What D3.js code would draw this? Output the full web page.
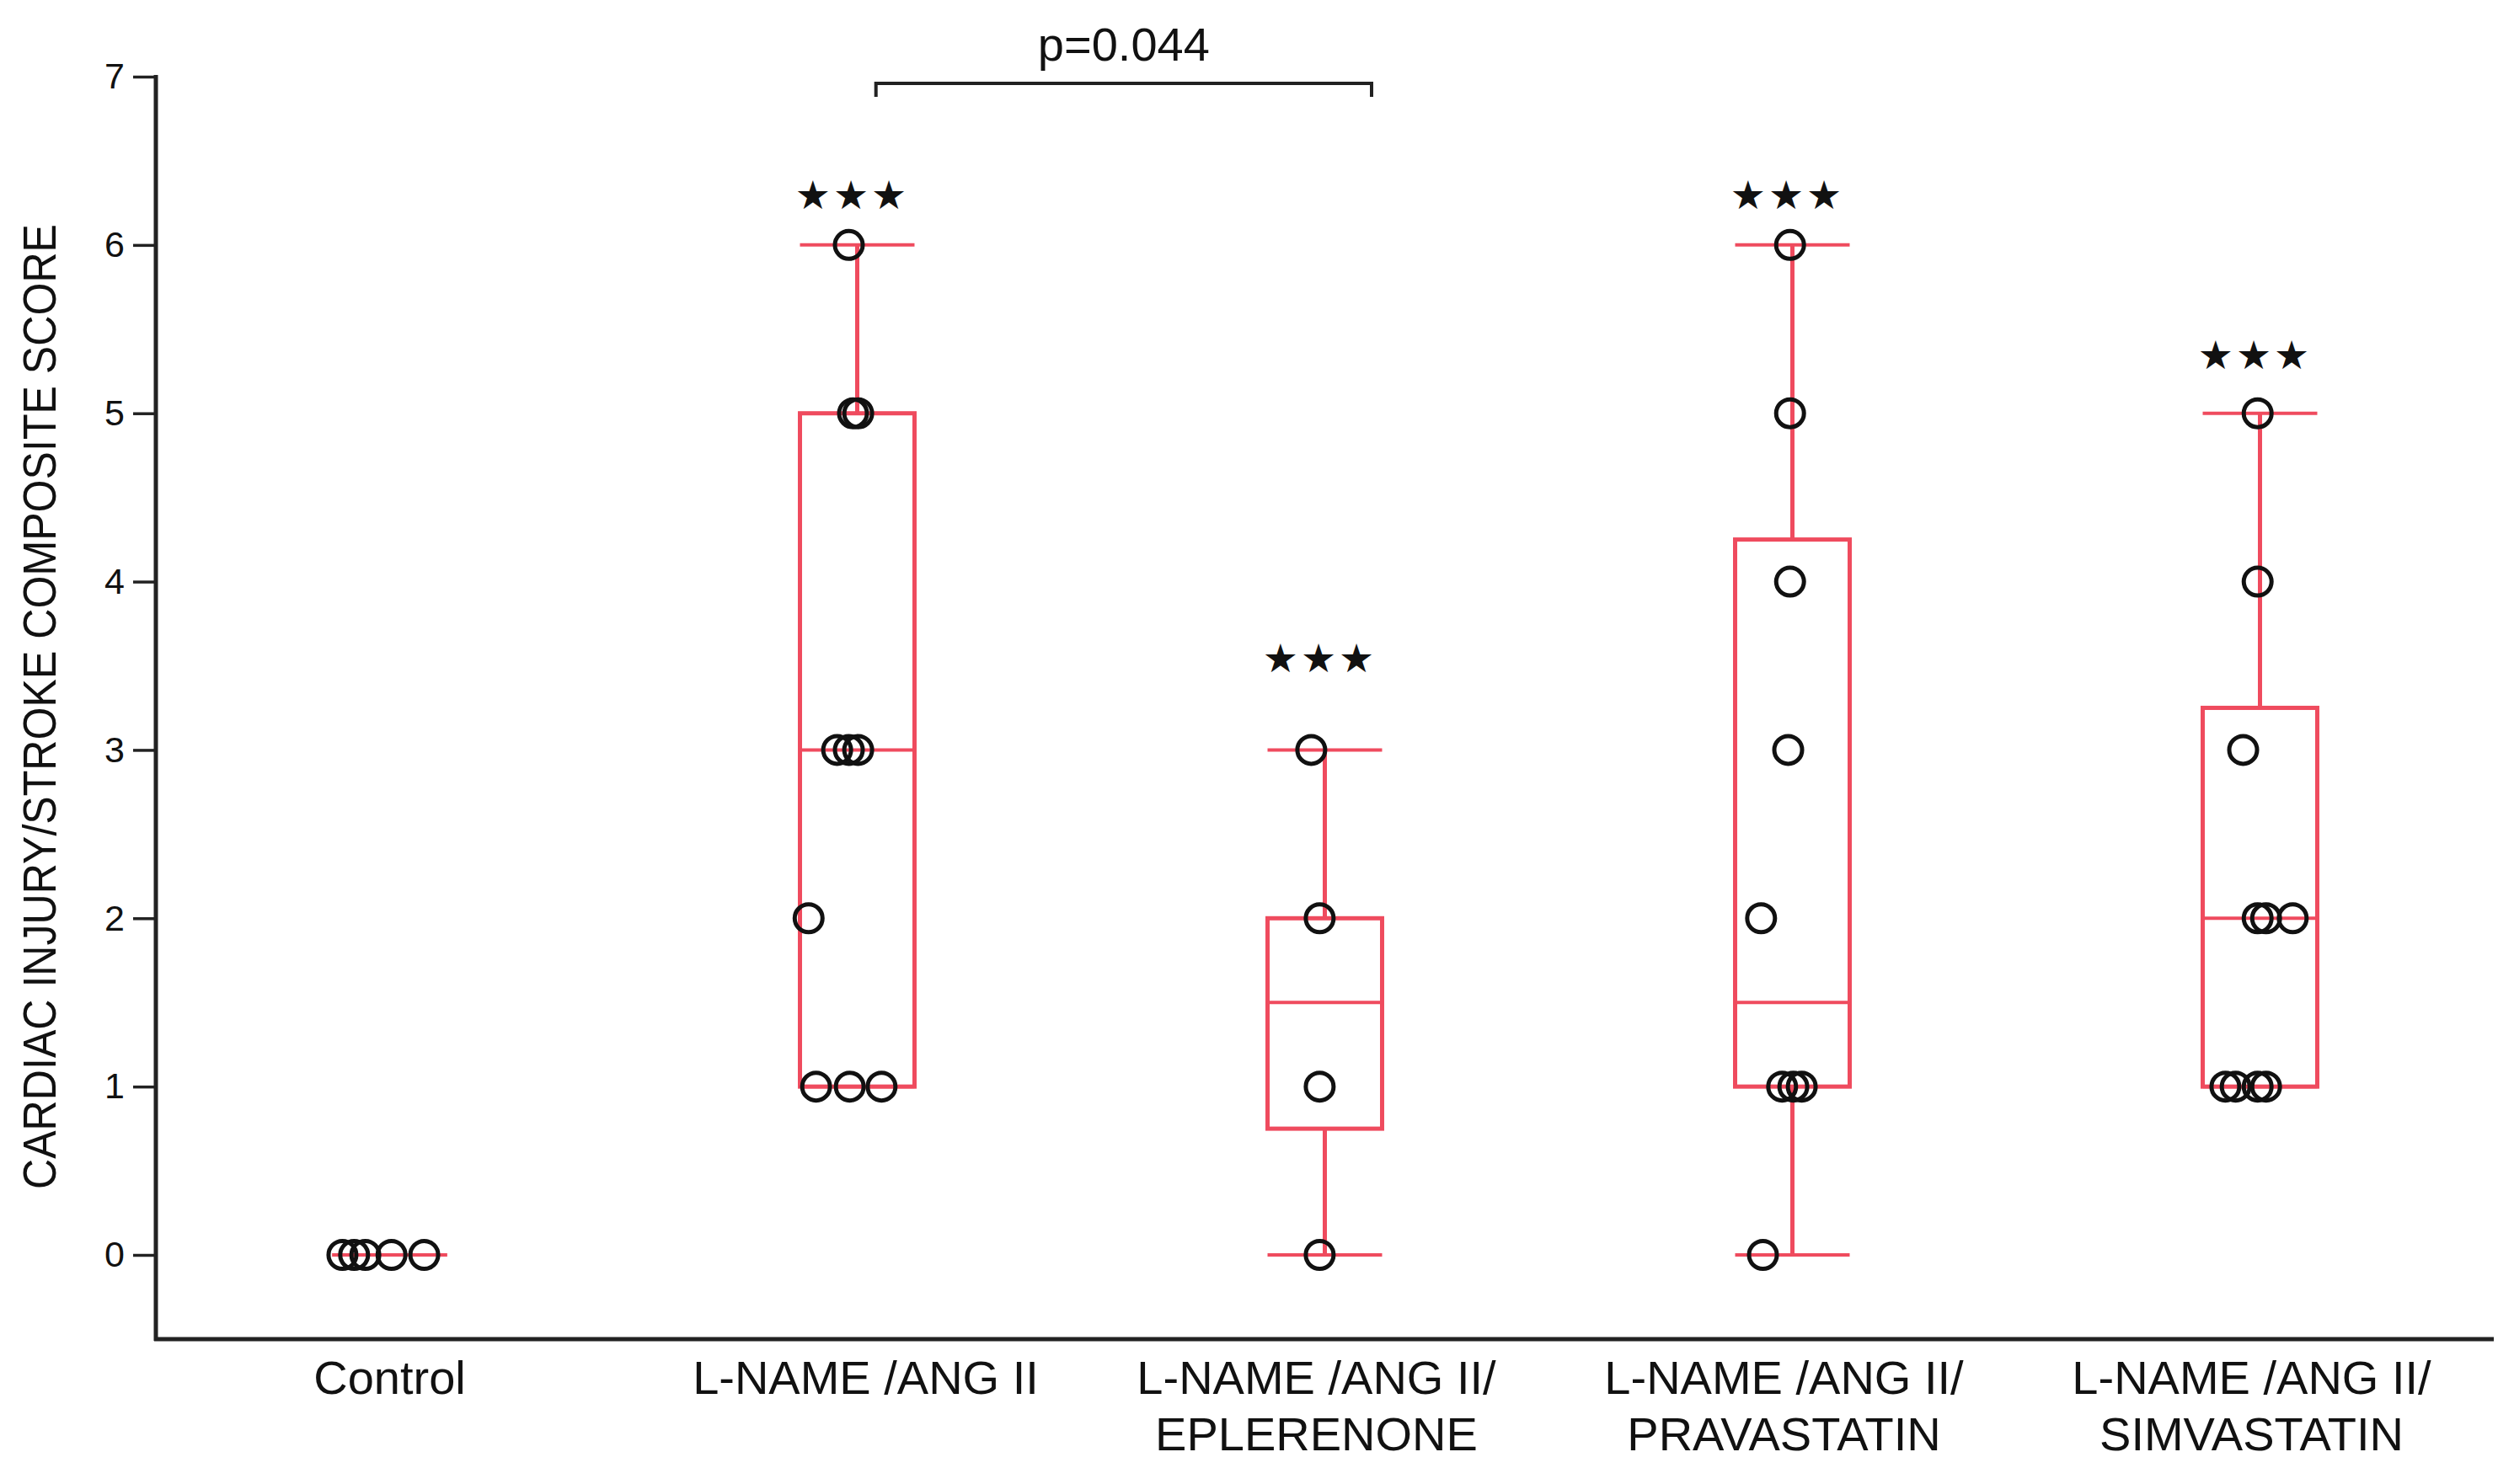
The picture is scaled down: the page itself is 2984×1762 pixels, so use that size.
<!DOCTYPE html>
<html>
<head>
<meta charset="utf-8">
<script src="https://cdn.jsdelivr.net/npm/d3@7"></script>
<style>
  html, body { margin: 0; padding: 0; background: #fff; }
  svg { display: block; }
  text { font-family: "Liberation Sans", Arial, sans-serif; fill: #111; }
</style>
</head>
<body>
<svg id="chart" width="2984" height="1762"></svg>
<script>
// ---------- data ----------
const categories = ["Control", "L-NAME /ANG II", "L-NAME /ANG II/\nEPLERENONE", "L-NAME /ANG II/\nPRAVASTATIN", "L-NAME /ANG II/\nSIMVASTATIN"];
// box statistics per group
const whiskerLow  = [0, 1, 0,    0,    1];
const quart1      = [0, 1, 0.75, 1,    1];
const medians     = [0, 3, 1.5,  1.5,  2];
const quart3      = [0, 5, 2,    4.25, 3.25];
const whiskerHigh = [0, 6, 3,    6,    5];
// individual scores per group
const controlScores = [0, 0, 0, 0, 0];
const angScores     = [6, 5, 5, 3, 3, 3, 2, 1, 1, 1];
const epleScores    = [3, 2, 1, 0];
const pravaScores   = [6, 5, 4, 3, 2, 1, 1, 1, 0];
const simvaScores   = [5, 4, 3, 2, 2, 2, 1, 1, 1, 1];
// horizontal jitter of each point (fraction of category step)
const controlJitter = [-0.101, -0.076, -0.052, 0.004, 0.074];
const angJitter     = [-0.018, -0.009, 0.002, -0.043, -0.018, 0.002, -0.104, -0.088, -0.016, 0.052];
const epleJitter    = [-0.029, -0.011, -0.011, -0.011];
const pravaJitter   = [-0.005, -0.005, -0.005, -0.009, -0.067, -0.022, 0.002, 0.020, -0.063];
const simvaJitter   = [-0.005, -0.005, -0.036, -0.005, 0.013, 0.070, -0.074, -0.052, -0.005, 0.013];
// significance annotations
const starLevel  = [null, 6.3, 3.55, 6.3, 5.35];
const starLabel  = "★★★";
const yTicks     = [0, 1, 2, 3, 4, 5, 6, 7];
const yTitle     = "CARDIAC INJURY/STROKE COMPOSITE SCORE";
const pLabel     = "p=0.044";
const bracketGroups = [1, 2];
const bracketLevel  = 6.96;

const allScores = [controlScores, angScores, epleScores, pravaScores, simvaScores];
const allJitter = [controlJitter, angJitter, epleJitter, pravaJitter, simvaJitter];

// ---------- layout ----------
const svg = d3.select("#chart");
const axisLeftX = 185, axisRightX = 2960, axisBottomY = 1590;
const red = "#ef4b5e";

const x = d3.scalePoint().domain(d3.range(categories.length)).range([axisLeftX, axisRightX]).padding(0.5);
const step = x.step();
const y = d3.scaleLinear().domain([0, 7]).range([1490, 91]);
const boxW = step * 0.245;

// ---------- axes ----------
const yAxis = d3.axisLeft(y).tickValues(yTicks).tickSize(27).tickPadding(10).tickFormat(d3.format("d"));
const gy = svg.append("g").attr("transform", `translate(${axisLeftX},0)`).call(yAxis);
gy.select(".domain").remove();
gy.selectAll(".tick line").attr("stroke", "#222").attr("stroke-width", 3.5);
gy.selectAll(".tick text").style("font-size", "43px").style("font-family", "'Liberation Sans', Arial, sans-serif").attr("fill", "#111");

svg.append("line").attr("x1", axisLeftX).attr("x2", axisLeftX)
  .attr("y1", y(7) - 2).attr("y2", axisBottomY + 2).attr("stroke", "#222").attr("stroke-width", 5);
svg.append("line").attr("x1", axisLeftX - 2).attr("x2", axisRightX)
  .attr("y1", axisBottomY).attr("y2", axisBottomY).attr("stroke", "#222").attr("stroke-width", 5);

svg.append("text")
  .attr("transform", `translate(66,839) rotate(-90)`)
  .attr("text-anchor", "middle")
  .attr("textLength", 1146).attr("lengthAdjust", "spacingAndGlyphs")
  .style("font-size", "55px")
  .text(yTitle);

// category labels
categories.forEach((c, i) => {
  const lines = c.split("\n");
  const shift = lines.length > 1 ? -10 : (i === 0 ? 0 : 10);
  const t = svg.append("text").attr("text-anchor", "middle").style("font-size", "56px");
  lines.forEach((ln, j) => {
    t.append("tspan").attr("x", x(i) + shift).attr("y", 1655 + j * 67).text(ln);
  });
});

// ---------- boxes ----------
const groups = svg.append("g").selectAll("g").data(d3.range(categories.length)).join("g");
groups.each(function(i) {
  const g = d3.select(this);
  const cx = x(i);
  g.append("line").attr("x1", cx).attr("x2", cx).attr("y1", y(whiskerHigh[i])).attr("y2", y(quart3[i]))
    .attr("stroke", red).attr("stroke-width", 5);
  g.append("line").attr("x1", cx).attr("x2", cx).attr("y1", y(quart1[i])).attr("y2", y(whiskerLow[i]))
    .attr("stroke", red).attr("stroke-width", 5);
  [whiskerHigh[i], whiskerLow[i]].forEach(v => {
    g.append("line").attr("x1", cx - boxW / 2).attr("x2", cx + boxW / 2).attr("y1", y(v)).attr("y2", y(v))
      .attr("stroke", red).attr("stroke-width", 4);
  });
  g.append("rect").attr("x", cx - boxW / 2).attr("width", boxW)
    .attr("y", y(quart3[i])).attr("height", Math.max(0, y(quart1[i]) - y(quart3[i])))
    .attr("fill", "none").attr("stroke", red).attr("stroke-width", 5);
  g.append("line").attr("x1", cx - boxW / 2).attr("x2", cx + boxW / 2).attr("y1", y(medians[i])).attr("y2", y(medians[i]))
    .attr("stroke", red).attr("stroke-width", 4);
});

// ---------- points ----------
const pts = [];
allScores.forEach((arr, i) => arr.forEach((v, k) => pts.push({ g: i, v: v, j: allJitter[i][k] })));
svg.append("g").selectAll("circle").data(pts).join("circle")
  .attr("cx", d => x(d.g) + d.j * step)
  .attr("cy", d => y(d.v))
  .attr("r", 16.5)
  .attr("fill", "none")
  .attr("stroke", "#111")
  .attr("stroke-width", 5);

// ---------- significance stars ----------
starLevel.forEach((lv, i) => {
  if (lv == null) return;
  svg.append("text").attr("x", x(i) - 6).attr("y", y(lv) + 17)
    .attr("text-anchor", "middle")
    .style("font-family", "'DejaVu Sans', sans-serif")
    .style("font-size", "47px").style("letter-spacing", "3px")
    .text(starLabel);
});

// ---------- bracket ----------
const bx1 = x(bracketGroups[0]) + 0.04 * step;
const bx2 = x(bracketGroups[1]) + 0.10 * step;
const by = y(bracketLevel);
svg.append("path")
  .attr("d", `M${bx1},${by + 16} L${bx1},${by} L${bx2},${by} L${bx2},${by + 16}`)
  .attr("fill", "none").attr("stroke", "#222").attr("stroke-width", 4);
svg.append("text").attr("x", (bx1 + bx2) / 2).attr("y", by - 27)
  .attr("text-anchor", "middle").style("font-size", "56px").text(pLabel);
</script>
</body>
</html>
